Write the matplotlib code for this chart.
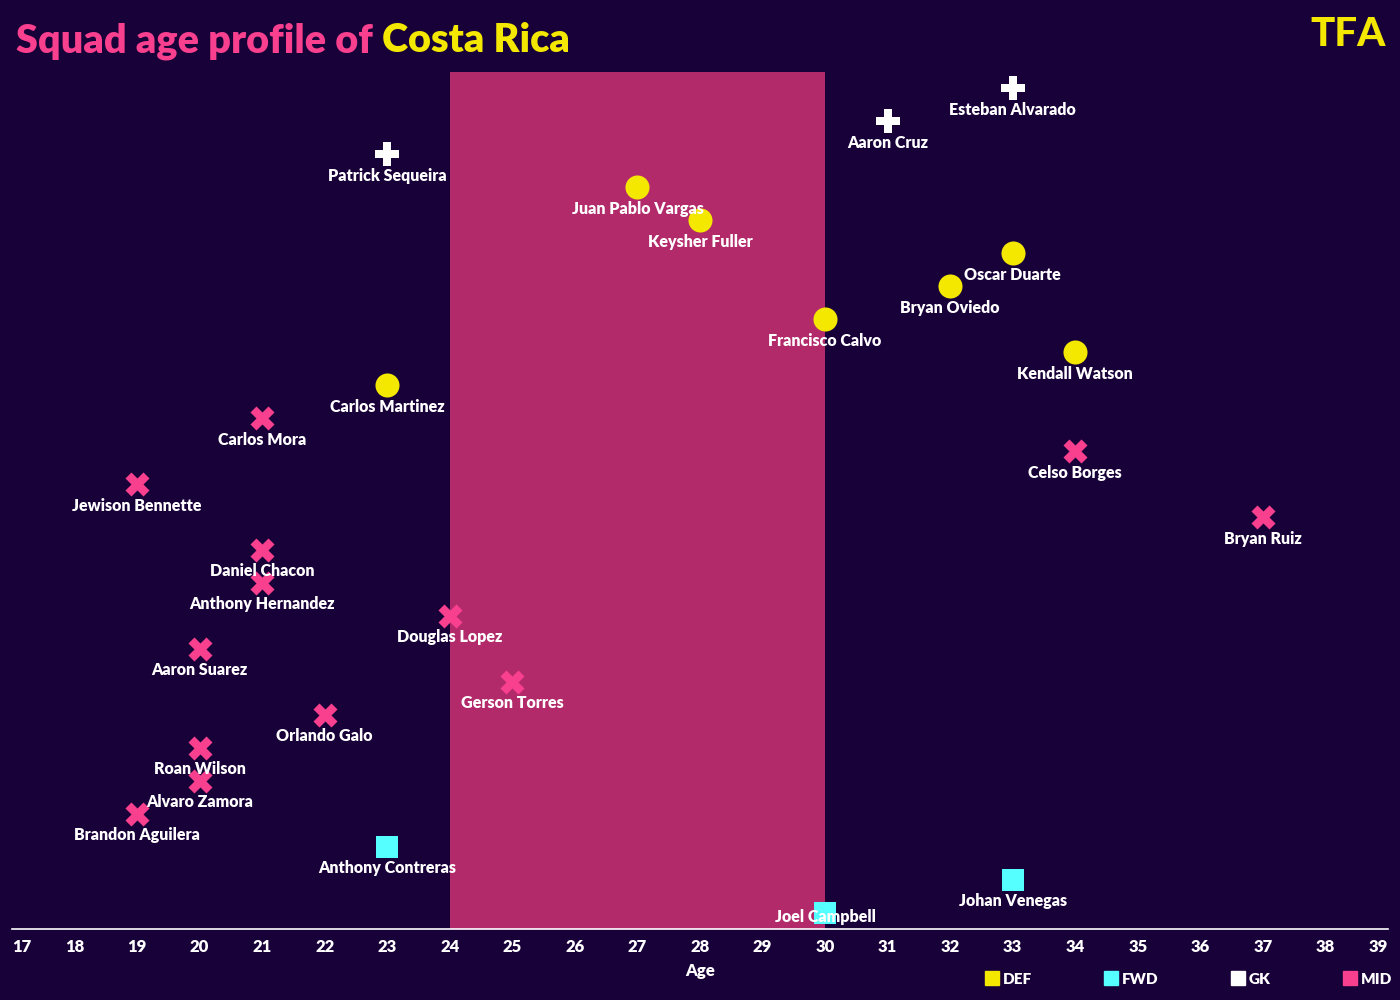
import numpy as np
import matplotlib.pyplot as plt
from matplotlib.lines import Line2D

# squad data, top of chart first
players = ["Esteban Alvarado", "Aaron Cruz", "Patrick Sequeira",
           "Juan Pablo Vargas", "Keysher Fuller", "Oscar Duarte", "Bryan Oviedo",
           "Francisco Calvo", "Kendall Watson", "Carlos Martinez",
           "Carlos Mora", "Celso Borges", "Jewison Bennette", "Bryan Ruiz",
           "Daniel Chacon", "Anthony Hernandez", "Douglas Lopez", "Aaron Suarez",
           "Gerson Torres", "Orlando Galo", "Roan Wilson", "Alvaro Zamora",
           "Brandon Aguilera",
           "Anthony Contreras", "Johan Venegas", "Joel Campbell"]
ages = [33, 31, 23,
        27, 28, 33, 32, 30, 34, 23,
        21, 34, 19, 37, 21, 21, 24, 20, 25, 22, 20, 20, 19,
        23, 33, 30]
positions = ["GK", "GK", "GK",
             "DEF", "DEF", "DEF", "DEF", "DEF", "DEF", "DEF",
             "MID", "MID", "MID", "MID", "MID", "MID", "MID", "MID", "MID",
             "MID", "MID", "MID", "MID",
             "FWD", "FWD", "FWD"]
peak_start, peak_end = 24, 30
xticks = list(range(17, 40))

bg = "#180038"
pos_style = {
    "DEF": ("#f5e800", "o", 300),
    "FWD": ("#55ffff", "s", 250),
    "GK": ("#ffffff", "P", 300),
    "MID": ("#f8408f", "X", 300),
}
font = "Lato"

n = len(players)
ypos = np.arange(n)[::-1]

fig = plt.figure(figsize=(14, 10), dpi=100, facecolor=bg)
ax = fig.add_axes([12 / 1400, 0.071, 1376 / 1400, 0.857])
ax.set_facecolor(bg)

ax.axvspan(peak_start, peak_end, color="#b32a6b", zorder=1, lw=0)

for pos, (col, mk, sz) in pos_style.items():
    idx = [i for i, p in enumerate(positions) if p == pos]
    ax.scatter([ages[i] for i in idx], ypos[idx], color=col, marker=mk,
               s=sz, zorder=3, linewidths=0)

for i, name in enumerate(players):
    # bottom label is pulled up so it stays inside the axes
    dy = -3 if ypos[i] == 0 else -15.5
    ax.annotate(name, (ages[i], ypos[i]), xytext=(0, dy),
                textcoords="offset points", ha="center", va="center",
                color="white", fontsize=11.5, fontweight="heavy",
                family=font, zorder=4)

ax.set_xlim(17, 39)
ax.set_ylim(-0.5, n - 0.5)
ax.set_yticks([])
ax.set_xticks(xticks)
ax.set_xticklabels([str(t) for t in xticks], color="white", fontsize=12,
                   fontweight="heavy", family=font)
lbls = ax.get_xticklabels()
lbls[0].set_ha("left")
lbls[-1].set_ha("right")
ax.tick_params(axis="x", length=0, pad=7)
for s in ["top", "right", "left"]:
    ax.spines[s].set_visible(False)
ax.spines["bottom"].set_color("white")
ax.spines["bottom"].set_linewidth(1.2)
ax.set_xlabel("Age", color="white", fontsize=12, fontweight="heavy",
              family=font, labelpad=6)

# legend
handles = [Line2D([], [], marker="s", ls="", color=pos_style[p][0],
                  markersize=10, label=p) for p in pos_style]
leg = fig.legend(handles=handles, ncol=4, loc="center right",
                 bbox_to_anchor=(1.004, 0.021), frameon=False,
                 columnspacing=4.6, handletextpad=0.1, handlelength=1.2,
                 prop={"family": font, "weight": "heavy", "size": 11})
for t in leg.get_texts():
    t.set_color("white")

# title
t1 = fig.text(16 / 1400, 0.959, "Squad age profile of ", color="#f8408f",
              fontsize=28.5, fontweight="heavy", family=font, va="center")
fig.canvas.draw()
bb = t1.get_window_extent()
fig.text(bb.x1 / 1400, 0.959, "Costa Rica", color="#f5e800",
         fontsize=28.5, fontweight="heavy", family=font, va="center")
fig.text(0.99, 0.965, "TFA", color="#f5e800", fontsize=29,
         fontweight="black", family=font, ha="right", va="center")

plt.savefig("out.png", dpi=100, facecolor=bg)
